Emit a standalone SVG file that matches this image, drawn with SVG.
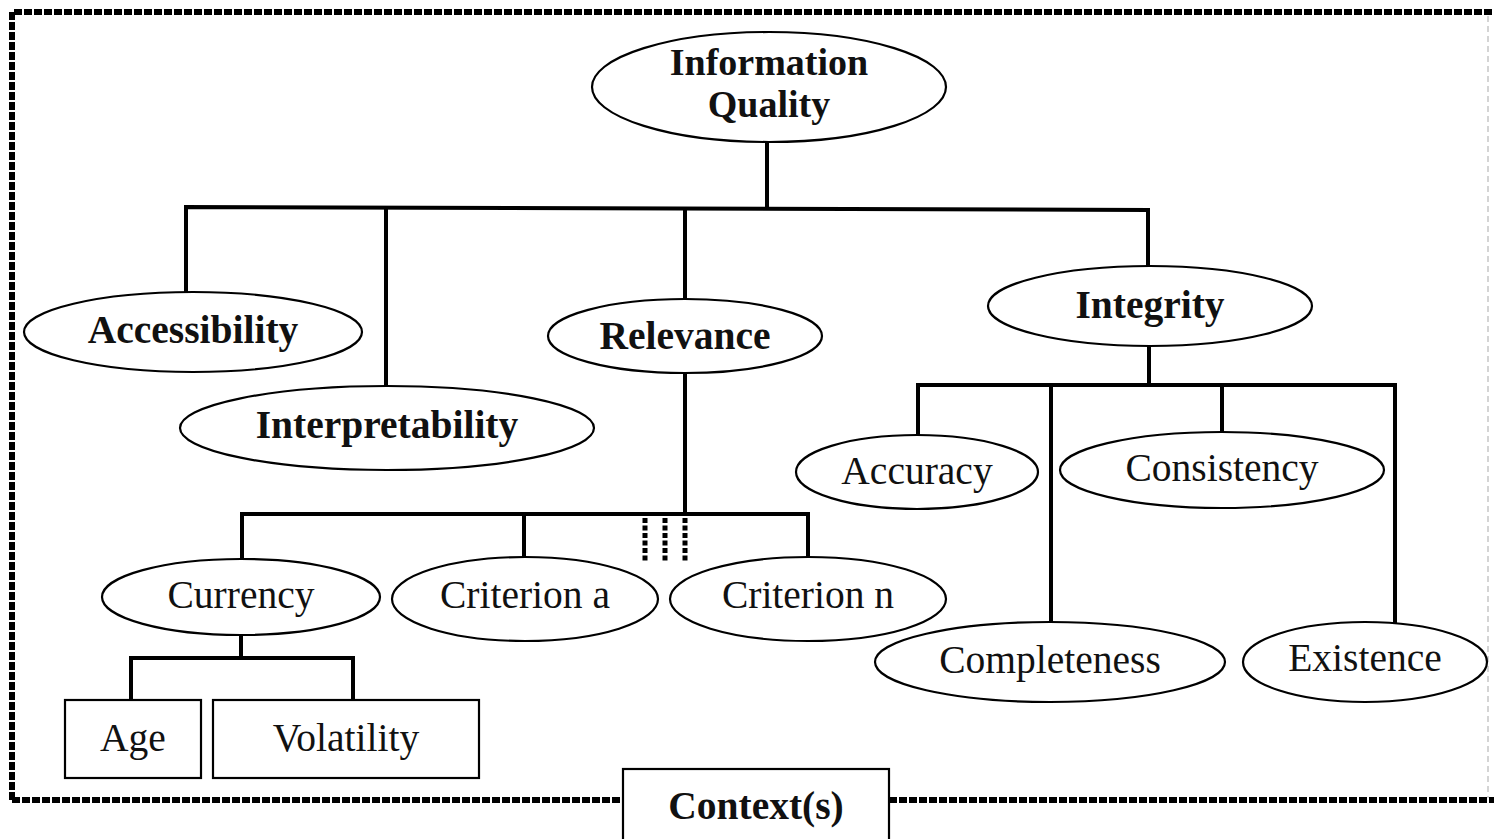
<svg xmlns="http://www.w3.org/2000/svg" width="1494" height="839" viewBox="0 0 1494 839">
<style>
.e{fill:#fff;stroke:#000;stroke-width:2.2}
.b{fill:#fff;stroke:#000;stroke-width:2.2}
.t{font-family:"Liberation Serif",serif;font-size:39.5px;text-anchor:middle;fill:#111}
.tb{font-weight:bold}
.iq{font-size:38px}
.c{fill:none;stroke:#000;stroke-width:4}
.d{fill:none;stroke:#000;stroke-width:5;stroke-dasharray:5 2.5}
.frame{fill:none;stroke:#000;stroke-width:6;stroke-dasharray:8 2}
</style>
<rect width="1494" height="839" fill="#fff"/>
<g id="frame">
<path class="frame" d="M12 800 V12 H1494"/>
<path class="frame" d="M12 800 H623 M889 800 H1494"/>
<path d="M1488 16 V798" fill="none" stroke="#d4d4d4" stroke-width="2" stroke-dasharray="6 4"/>
</g>
<g id="connectors">
<path class="c" d="M767 142 V207"/>
<path class="c" d="M186 293 V207 L1148 210 V268"/>
<path class="c" d="M386 207 V388"/>
<path class="c" d="M685 208 V300"/>
<path class="c" d="M685 373 V514"/>
<path class="c" d="M242 558 V514 H808 V560"/>
<path class="c" d="M524 514 V558"/>
<path class="d" d="M645 518 V562 M665 518 V562 M685 518 V562"/>
<path class="c" d="M241 635 V658"/>
<path class="c" d="M131 700 V658 H353 V700"/>
<path class="c" d="M1149 346 V385"/>
<path class="c" d="M918 437 V385 H1395 V625"/>
<path class="c" d="M1051 385 V622"/>
<path class="c" d="M1222 385 V434"/>
</g>
<g id="information-quality"><ellipse class="e" cx="769" cy="87" rx="177" ry="55"/><text class="t tb iq" x="769" y="75">Information</text><text class="t tb iq" x="769" y="117">Quality</text></g>
<g id="accessibility"><ellipse class="e" cx="193" cy="332" rx="169" ry="40"/><text class="t tb" x="193" y="343">Accessibility</text></g>
<g id="interpretability"><ellipse class="e" cx="387" cy="428" rx="207" ry="42"/><text class="t tb" x="387" y="438">Interpretability</text></g>
<g id="relevance"><ellipse class="e" cx="685" cy="336" rx="137" ry="37"/><text class="t tb" x="685" y="349">Relevance</text></g>
<g id="integrity"><ellipse class="e" cx="1150" cy="306" rx="162" ry="40"/><text class="t tb" x="1150" y="318">Integrity</text></g>
<g id="currency"><ellipse class="e" cx="241" cy="597" rx="139" ry="38"/><text class="t" x="241" y="608">Currency</text></g>
<g id="criterion-a"><ellipse class="e" cx="525" cy="599" rx="133" ry="42"/><text class="t" x="525" y="608">Criterion a</text></g>
<g id="criterion-n"><ellipse class="e" cx="808" cy="599" rx="138" ry="42"/><text class="t" x="808" y="608">Criterion n</text></g>
<g id="accuracy"><ellipse class="e" cx="917" cy="472" rx="121" ry="37"/><text class="t" x="917" y="484">Accuracy</text></g>
<g id="consistency"><ellipse class="e" cx="1222" cy="470" rx="162" ry="38"/><text class="t" x="1222" y="481">Consistency</text></g>
<g id="completeness"><ellipse class="e" cx="1050" cy="662" rx="175" ry="40"/><text class="t" x="1050" y="673">Completeness</text></g>
<g id="existence"><ellipse class="e" cx="1365" cy="662" rx="122" ry="40"/><text class="t" x="1365" y="671">Existence</text></g>
<g id="age"><rect class="b" x="65" y="700" width="136" height="78"/><text class="t" x="133" y="751">Age</text></g>
<g id="volatility"><rect class="b" x="213" y="700" width="266" height="78"/><text class="t" x="346" y="751">Volatility</text></g>
<g id="contexts"><rect class="b" x="623" y="769" width="266" height="80"/><text class="t tb" x="756" y="819">Context(s)</text></g>
</svg>
